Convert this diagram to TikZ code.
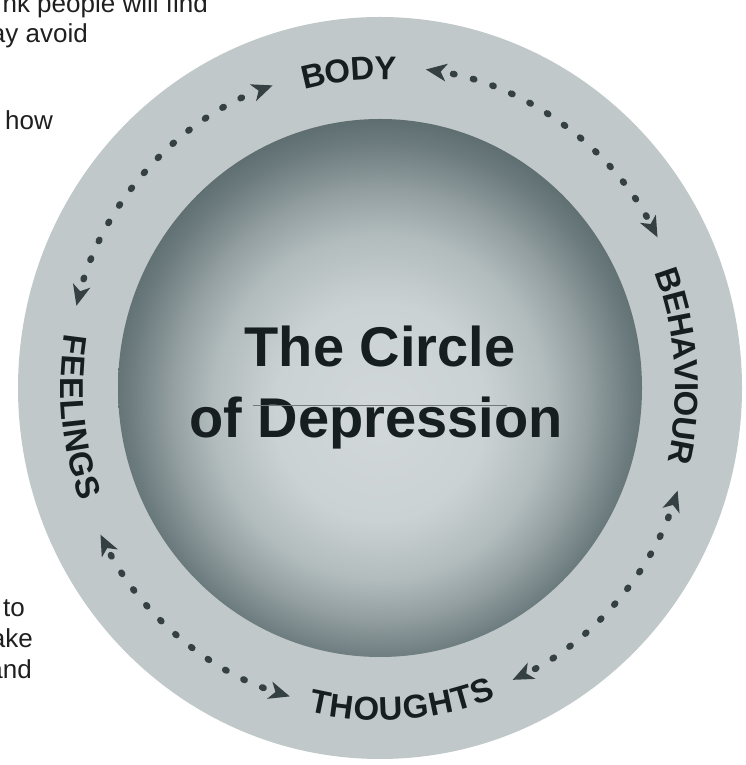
\documentclass[tikz,border=0pt]{standalone}
\usepackage{fontspec}
\setmainfont{Liberation Sans}
\setsansfont{Liberation Sans}
\usetikzlibrary{arrows.meta,decorations.text,calc}
\definecolor{ringcol}{RGB}{193,200,201}
\definecolor{sphA}{RGB}{210,216,217}
\definecolor{sphB}{RGB}{203,210,211}
\definecolor{sphC}{RGB}{178,188,189}
\definecolor{sphD}{RGB}{146,158,160}
\definecolor{sphE}{RGB}{108,123,126}
\definecolor{sphF}{RGB}{82,97,100}
\definecolor{dotcol}{RGB}{52,64,66}
\definecolor{inkcol}{RGB}{22,30,32}
\pgfdeclareradialshading{sphereshade}{\pgfpoint{0bp}{-3bp}}{color(0bp)=(sphA); color(10bp)=(sphB); color(16bp)=(sphC); color(20bp)=(sphD); color(24bp)=(sphE); color(28bp)=(sphF); color(40bp)=(sphF)}
\newcommand\labfont{\fontsize{33pt}{36pt}\selectfont\bfseries\color{inkcol}}
\tikzset{
  dtip/.tip={Stealth[length=21pt,width=18pt,inset=6pt,line width=0pt]},
  dotarc/.style={draw=dotcol, line width=6.5pt, line cap=round,
    dash pattern=on 1.5pt off 19pt, dash phase=8pt, dtip-dtip},
  curvlab/.style={decorate, decoration={text along path, text align=center,
    raise=-11.8pt, text={|\labfont|#1}}},
  titletext/.style={font=\fontsize{56pt}{60pt}\selectfont\bfseries, text=inkcol, inner sep=0pt},
  sidetext/.style={font=\fontsize{26pt}{30pt}\selectfont, text=black!88, anchor=base east, inner sep=0pt}
}
\begin{document}
\begin{tikzpicture}[x=1pt,y=1pt]
\useasboundingbox (0,0) rectangle (745,765);
\coordinate (C) at (380,377);
% ring and sphere
\fill[ringcol] (C) ellipse [x radius=362, y radius=371];
\shade[shading=sphereshade] (C) ellipse [x radius=262, y radius=269];
% arrow ends
\coordinate (a7) at ($(C)+(165.2:314 and 322)$);
\coordinate (a1) at ($(C)+(81.6:314 and 322)$);
\coordinate (a3) at ($(C)+(-18.6:314 and 322)$);
\coordinate (a5) at ($(C)+(-106.7:314 and 322)$);
% dotted double arrows
\draw[dotarc] (a7) arc[start angle=165.2, end angle=110, x radius=314, y radius=322];
\draw[dotarc] (a1) arc[start angle=81.6, end angle=27.9, x radius=314, y radius=322];
\draw[dotarc] (a3) arc[start angle=-18.6, end angle=-65, x radius=314, y radius=322];
\draw[dotarc] (a5) arc[start angle=-106.7, end angle=-152.9, x radius=314, y radius=322];
% curved labels
\path[curvlab=BODY] ($(C)+(125.8:307.5 and 320.5)$) arc[start angle=125.8, end angle=65.8, x radius=307.5, y radius=320.5];
\path[curvlab=BEHAVIOUR] ($(C)+(49.1:307.5 and 320.5)$) arc[start angle=49.1, end angle=-40.9, x radius=307.5, y radius=320.5];
\path[curvlab=THOUGHTS] ($(C)+(-125.9:307.5 and 320.5)$) arc[start angle=-125.9, end angle=-45.9, x radius=307.5, y radius=320.5];
\path[curvlab=FEELINGS] ($(C)+(145.4:307.5 and 320.5)$) arc[start angle=145.4, end angle=225.4, x radius=307.5, y radius=320.5];
% title
\node[titletext, anchor=base] (t1) at (380,398) {The Circle};
\node[titletext, anchor=base] (t2) at (376,327) {of Depression};
\draw[line width=0.7pt, inkcol!60] (253,360) -- (507,360);
% cut-off text at the left
\node[sidetext] (f1) at (208,752) {nk people will find};
\node[sidetext] (f2) at (88,722) {ay avoid};
\node[sidetext] (f3) at (53,635) {how};
\node[sidetext] (f4) at (25,148) {to};
\node[sidetext] (f5) at (33,117) {ake};
\node[sidetext] (f6) at (32,86) {and};
\end{tikzpicture}
\end{document}
